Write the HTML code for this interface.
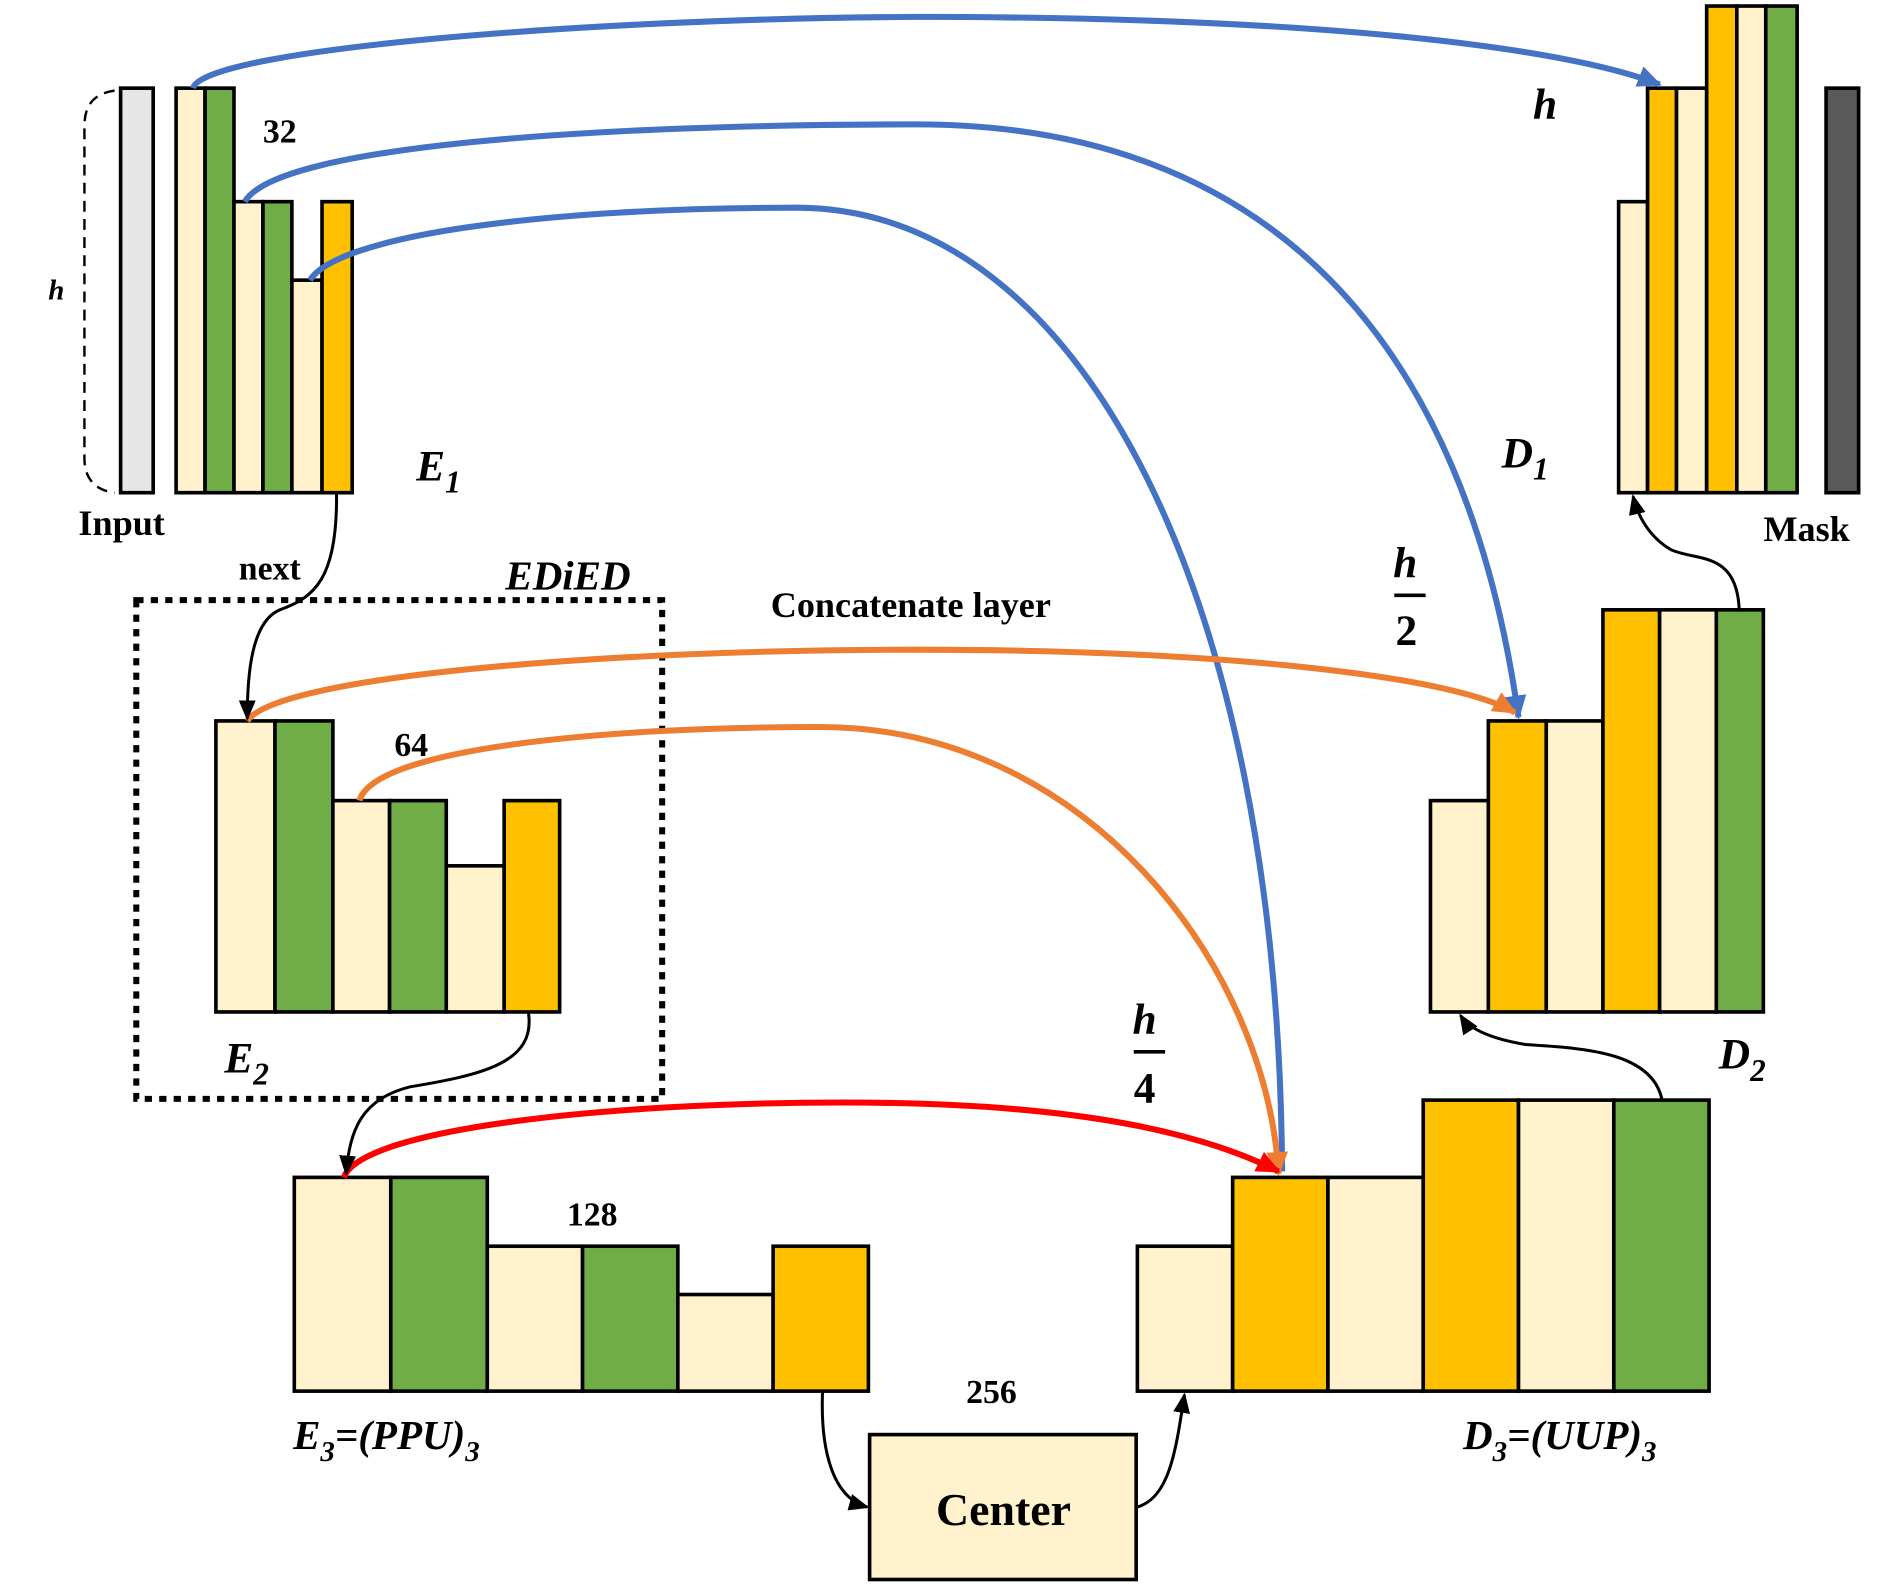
<!DOCTYPE html>
<html><head><meta charset="utf-8"><style>
html,body{margin:0;padding:0;background:#fff;}
svg{display:block;}
text{font-family:"Liberation Serif",serif;font-weight:bold;fill:#000;}
</style></head><body>
<svg width="1890" height="1594" viewBox="0 0 1567 1320" preserveAspectRatio="none" xmlns="http://www.w3.org/2000/svg">
<defs>
<marker id="abB" markerWidth="22" markerHeight="22" refX="18" refY="11" orient="auto" markerUnits="userSpaceOnUse"><path d="M0,2 L20,11 L0,20 z" fill="#4472C4"/></marker>
<marker id="aoB" markerWidth="22" markerHeight="22" refX="18" refY="11" orient="auto" markerUnits="userSpaceOnUse"><path d="M0,2 L20,11 L0,20 z" fill="#ED7D31"/></marker>
<marker id="arB" markerWidth="22" markerHeight="22" refX="18" refY="11" orient="auto" markerUnits="userSpaceOnUse"><path d="M0,2 L20,11 L0,20 z" fill="#FF0000"/></marker>
<marker id="akB" markerWidth="18" markerHeight="18" refX="15" refY="9" orient="auto" markerUnits="userSpaceOnUse"><path d="M0,2 L17,9 L0,16 z" fill="#000"/></marker>
</defs>
<g stroke="#000" stroke-width="3">
<rect x="100" y="73" width="27" height="335" fill="#E7E6E6"/>
<rect x="146" y="73" width="24" height="335" fill="#FFF2CC"/>
<rect x="170" y="73" width="24" height="335" fill="#70AD47"/>
<rect x="194" y="167" width="24" height="241" fill="#FFF2CC"/>
<rect x="218" y="167" width="24" height="241" fill="#70AD47"/>
<rect x="242" y="232" width="25" height="176" fill="#FFF2CC"/>
<rect x="267" y="167" width="25" height="241" fill="#FFC000"/>
<rect x="1342" y="167" width="24" height="241" fill="#FFF2CC"/>
<rect x="1366" y="73" width="24" height="335" fill="#FFC000"/>
<rect x="1390" y="73" width="25" height="335" fill="#FFF2CC"/>
<rect x="1415" y="5" width="25" height="403" fill="#FFC000"/>
<rect x="1440" y="5" width="24" height="403" fill="#FFF2CC"/>
<rect x="1464" y="5" width="26" height="403" fill="#70AD47"/>
<rect x="1514" y="73" width="27" height="335" fill="#595959"/>
<rect x="179" y="597" width="49" height="241" fill="#FFF2CC"/>
<rect x="228" y="597" width="48" height="241" fill="#70AD47"/>
<rect x="276" y="663" width="47" height="175" fill="#FFF2CC"/>
<rect x="323" y="663" width="47" height="175" fill="#70AD47"/>
<rect x="370" y="717" width="48" height="121" fill="#FFF2CC"/>
<rect x="418" y="663" width="46" height="175" fill="#FFC000"/>
<rect x="1186" y="663" width="48" height="175" fill="#FFF2CC"/>
<rect x="1234" y="597" width="48" height="241" fill="#FFC000"/>
<rect x="1282" y="597" width="47" height="241" fill="#FFF2CC"/>
<rect x="1329" y="505" width="47" height="333" fill="#FFC000"/>
<rect x="1376" y="505" width="47" height="333" fill="#FFF2CC"/>
<rect x="1423" y="505" width="39" height="333" fill="#70AD47"/>
<rect x="244" y="975" width="80" height="177" fill="#FFF2CC"/>
<rect x="324" y="975" width="80" height="177" fill="#70AD47"/>
<rect x="404" y="1032" width="79" height="120" fill="#FFF2CC"/>
<rect x="483" y="1032" width="79" height="120" fill="#70AD47"/>
<rect x="562" y="1072" width="79" height="80" fill="#FFF2CC"/>
<rect x="641" y="1032" width="79" height="120" fill="#FFC000"/>
<rect x="943" y="1032" width="79" height="120" fill="#FFF2CC"/>
<rect x="1022" y="975" width="79" height="177" fill="#FFC000"/>
<rect x="1101" y="975" width="79" height="177" fill="#FFF2CC"/>
<rect x="1180" y="911" width="79" height="241" fill="#FFC000"/>
<rect x="1259" y="911" width="79" height="241" fill="#FFF2CC"/>
<rect x="1338" y="911" width="79" height="241" fill="#70AD47"/>
<rect x="721" y="1188" width="221" height="120" fill="#FFF2CC"/>
</g>
<path d="M95,75 C75,78 70,90 70,105 L70,380 C70,395 78,406 95,408" fill="none" stroke="#000" stroke-width="2" stroke-dasharray="9,6"/>
<rect x="113" y="497" width="436" height="413" fill="none" stroke="#000" stroke-width="5" stroke-dasharray="6,6"/>
<g fill="none" stroke-width="5">
<path d="M160,73 C170,40 500,15 760,14 C1100,14 1300,40 1376,70" stroke="#4472C4" marker-end="url(#abB)"/>
<path d="M203,167 C230,120 500,103 760,103 C1050,103 1215,280 1259,594" stroke="#4472C4" marker-end="url(#abB)"/>
<path d="M257,232 C280,195 450,172 660,172 C900,172 1060,500 1063,970" stroke="#4472C4"/>
<path d="M205,597 C230,560 500,538 760,538 C1000,538 1200,558 1256,590" stroke="#ED7D31" marker-end="url(#aoB)"/>
<path d="M298,663 C310,620 500,602 680,602 C900,602 1050,800 1060,972" stroke="#ED7D31" marker-end="url(#aoB)"/>
<path d="M285,975 C300,935 500,913 700,913 C900,913 1000,940 1060,970" stroke="#FF0000" marker-end="url(#arB)"/>
</g>
<g fill="none" stroke="#000" stroke-width="2.5">
<path d="M279,408 C280,480 260,495 232,505 C208,515 205,560 205,595" marker-end="url(#akB)"/>
<path d="M438,838 C445,880 400,890 340,900 C300,910 290,935 287,972" marker-end="url(#akB)"/>
<path d="M682,1152 C680,1200 690,1240 719,1248" marker-end="url(#akB)"/>
<path d="M943,1248 C970,1240 975,1200 982,1155" marker-end="url(#akB)"/>
<path d="M1378,911 C1370,870 1310,868 1265,865 C1235,860 1218,852 1211,841" marker-end="url(#akB)"/>
<path d="M1442,505 C1440,455 1405,465 1385,455 C1368,445 1358,428 1354,411" marker-end="url(#akB)"/>
</g>
<text x="218" y="118" font-size="28">32</text>
<text x="40" y="248" font-size="24" font-style="italic">h</text>
<text x="65" y="443" font-size="30">Input</text>
<text x="345" y="398" font-size="36" font-style="italic">E<tspan font-size="26" dy="10">1</tspan></text>
<text x="198" y="480" font-size="28">next</text>
<text x="419" y="488" font-size="34" font-style="italic">EDiED</text>
<text x="639" y="511" font-size="30">Concatenate layer</text>
<text x="1271" y="98" font-size="36" font-style="italic">h</text>
<text x="1245" y="387" font-size="36" font-style="italic">D<tspan font-size="26" dy="10">1</tspan></text>
<text x="1462" y="448" font-size="30">Mask</text>
<text x="1155" y="478" font-size="36" font-style="italic">h</text>
<line x1="1156" y1="493" x2="1182" y2="493" stroke="#000" stroke-width="3"/>
<text x="1157" y="534" font-size="36">2</text>
<text x="327" y="626" font-size="28">64</text>
<text x="186" y="888" font-size="36" font-style="italic">E<tspan font-size="26" dy="10">2</tspan></text>
<text x="1425" y="885" font-size="36" font-style="italic">D<tspan font-size="26" dy="10">2</tspan></text>
<text x="939" y="856" font-size="36" font-style="italic">h</text>
<line x1="940" y1="871" x2="966" y2="871" stroke="#000" stroke-width="3"/>
<text x="940" y="913" font-size="36">4</text>
<text x="470" y="1015" font-size="28">128</text>
<text x="801" y="1162" font-size="28">256</text>
<text x="243" y="1200" font-size="34" font-style="italic">E<tspan font-size="24" dy="10">3</tspan><tspan dy="-10">=(PPU)</tspan><tspan font-size="24" dy="10">3</tspan></text>
<text x="1213" y="1200" font-size="34" font-style="italic">D<tspan font-size="24" dy="10">3</tspan><tspan dy="-10">=(UUP)</tspan><tspan font-size="24" dy="10">3</tspan></text>
<text x="832" y="1263" font-size="38" text-anchor="middle">Center</text>
</svg>
</body></html>
